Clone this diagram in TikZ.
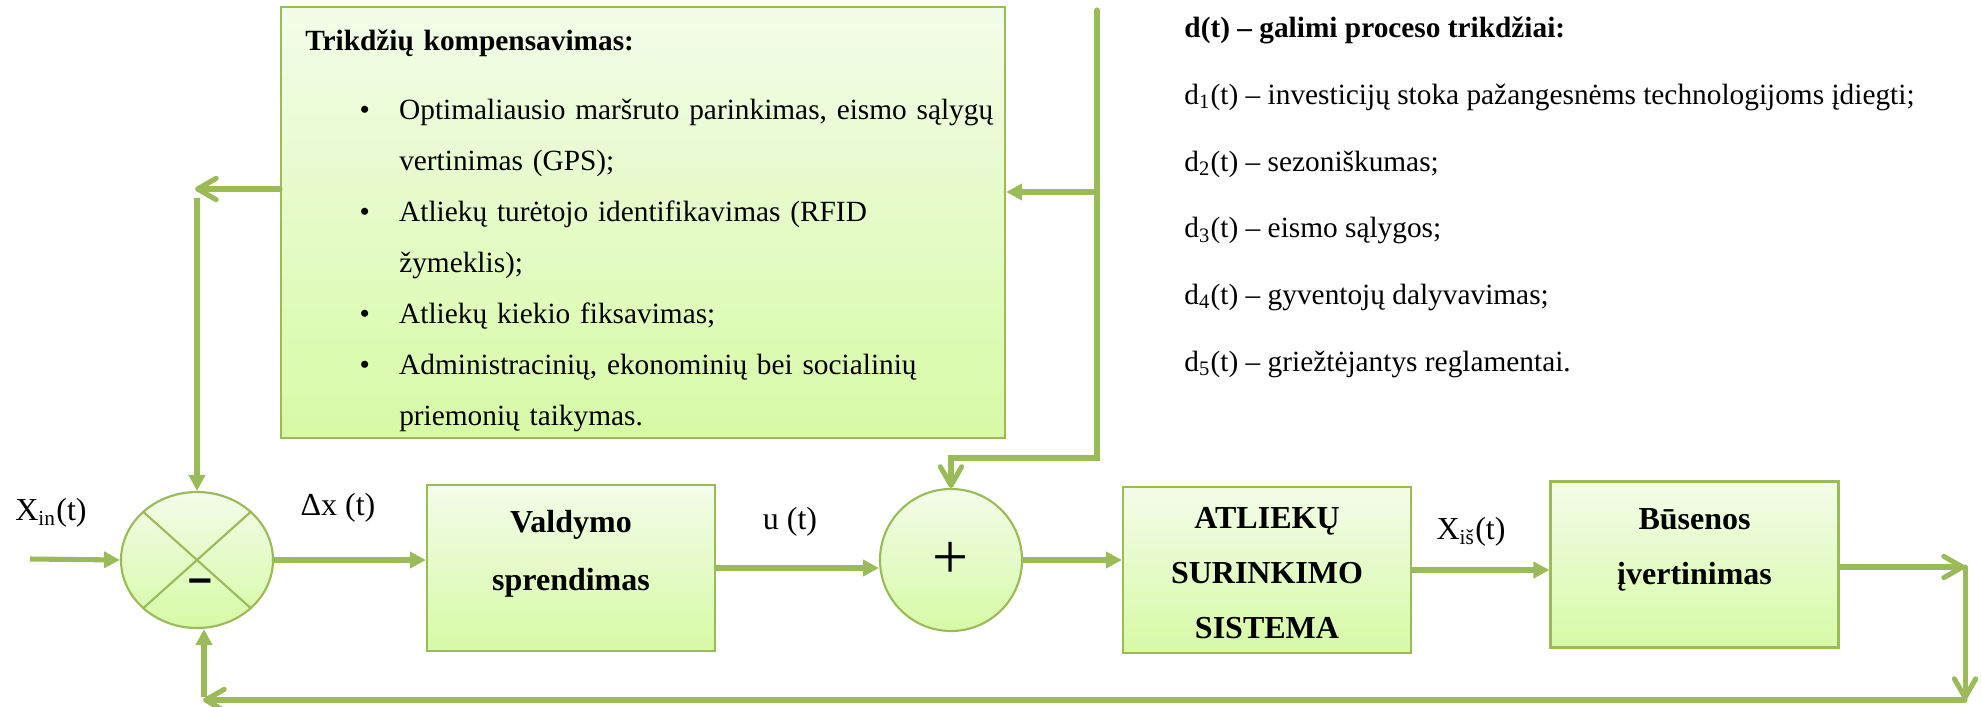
\documentclass[tikz,border=0pt]{standalone}
\usepackage{fontspec}
\setmainfont{Liberation Serif}
\newfontfamily\signfont{Liberation Sans}
\usetikzlibrary{arrows.meta,shapes.geometric}

\definecolor{lgreen}{RGB}{155,187,89}
\definecolor{ftop}{RGB}{243,252,233}
\definecolor{fbot}{RGB}{215,250,165}

\newcommand{\kbullet}{\noindent\llap{\textbullet\hspace{11pt}}}

\tikzset{
  boxfill/.style={draw=lgreen, line width=0.8pt, top color=ftop, bottom color=fbot},
  block/.style={boxfill, minimum width=108pt, minimum height=62.25pt, inner sep=0pt},
  blocktext/.style={align=center, font=\fontsize{12pt}{20.6pt}\selectfont\bfseries},
  kompbox/.style={boxfill, minimum width=271.5pt, minimum height=161.6pt, text width=270.5pt,
    inner xsep=0.5pt, inner ysep=0pt, align=left, font=\fontsize{11pt}{19.125pt}\selectfont},
  sumnode/.style={boxfill, inner sep=0pt},
  conn/.style={draw=lgreen, line width=1.9pt, -{Triangle[length=6pt,width=6pt]}},
  barb/.style={draw=lgreen, line width=1.9pt, line cap=round, -{Straight Barb[length=7pt,width=8pt,round]}},
  cross/.style={draw=lgreen, line width=0.8pt},
  sig/.style={font=\fontsize{12pt}{14pt}\selectfont},
  dtext/.style={anchor=base west, font=\fontsize{11pt}{13pt}\selectfont},
}

\begin{document}
\begin{tikzpicture}[x=0.375pt,y=-0.375pt]
  \fill[white] (0,0) rectangle (1982,706);
  \useasboundingbox (0,0) rectangle (1982,706);

  % blocks
  \node[kompbox] (komp) at (643,222.5) {%
    \hspace*{8.6pt}\rule{0pt}{13.7pt}\textbf{Trikdžių kompensavimas:}\par\vspace{6.8pt}
    \leftskip=43.85pt
    \kbullet Optimaliausio maršruto parinkimas, eismo sąlygų\newline vertinimas (GPS);\par
    \kbullet Atliekų turėtojo identifikavimas (RFID\newline žymeklis);\par
    \kbullet Atliekų kiekio fiksavimas;\par
    \kbullet Administracinių, ekonominių bei socialinių\newline priemonių taikymas.\par};
  \node[sumnode, ellipse, minimum width=57pt, minimum height=51pt] (sum1) at (197,560) {};
  \node[font=\fontsize{16pt}{16pt}\selectfont\signfont\bfseries] (minus) at (200,586) {–};
  \node[block, label={[blocktext, font=\fontsize{12pt}{21.75pt}\selectfont\bfseries, yshift=5.25pt]center:Valdymo\\sprendimas}] (valdymo) at (571,568) {};
  \node[sumnode, circle, minimum size=53.25pt, font=\fontsize{24pt}{24pt}\selectfont] (sum2) at (951,560) {+};
  \node[block, label={[blocktext, yshift=-1pt]center:ATLIEKŲ\\SURINKIMO\\SISTEMA}] (atliekos) at (1267,570) {};
  \node[block, label={[blocktext, yshift=5.6pt]center:Būsenos\\įvertinimas}] (busenos) at (1694.5,564.5) {};

  \draw[cross] (sum1.north west) -- (sum1.south east);
  \draw[cross] (sum1.north east) -- (sum1.south west);

  % signal labels
  \node[sig] (xinlbl) at (51,513) {X\textsubscript{in}(t)};
  \node[sig] (dxlbl) at (338,508) {Δx (t)};
  \node[sig] (ulbl) at (790,522) {u (t)};
  \node[sig] (xislbl) at (1471,532) {X\textsubscript{iš}(t)};

  % disturbances
  \node[dtext] (dn0) at (1175,38) {\textbf{d(t) – galimi proceso trikdžiai:}};
  \foreach \n/\txt in {1/investicijų stoka pažangesnėms technologijoms įdiegti;,
                       2/sezoniškumas;, 3/eismo sąlygos;, 4/gyventojų dalyvavimas;,
                       5/griežtėjantys reglamentai.}
    \node[dtext] (dn\n) at (1175,{38+66.6*\n}) {d\textsubscript{\n}(t) – \txt};

  % main chain
  \coordinate (xin) at (30,559);
  \draw[conn] (xin) -- (sum1.west);
  \draw[conn] (sum1.east) -- (valdymo.west |- sum1.east);
  \draw[conn] (valdymo.east) -- (valdymo.east -| sum2.west);
  \draw[conn] (sum2.east) -- (sum2.east -| atliekos.west);
  \draw[conn] (atliekos.east) -- (atliekos.east -| busenos.west);

  % disturbance line
  \coordinate (dtop) at (1097,10);
  \coordinate (dcorner) at (1097,458);
  \coordinate (dbranch) at (1097,192);
  \draw[barb] (dtop) -- (dcorner) -| (sum2.north);
  \draw[conn] (dbranch) -- (dbranch -| komp.east);

  % compensation to comparator
  \coordinate (kleft) at (195,189);
  \coordinate (kdown) at (197,198);
  \draw[barb] (kleft -| komp.west) -- (kleft);
  \draw[conn] (kdown) -- (sum1.north);

  % feedback
  \coordinate (out) at (1965,567);
  \coordinate (fbr) at (1965,700);
  \coordinate (fbl) at (203,700);
  \coordinate (fbup) at (204,697);
  \draw[barb] (busenos.east |- out) -- (out);
  \draw[barb] (out) -- (fbr);
  \draw[barb] (fbr) -- (fbl);
  \draw[conn] (fbup) -- (fbup |- sum1.south);
\end{tikzpicture}
\end{document}
